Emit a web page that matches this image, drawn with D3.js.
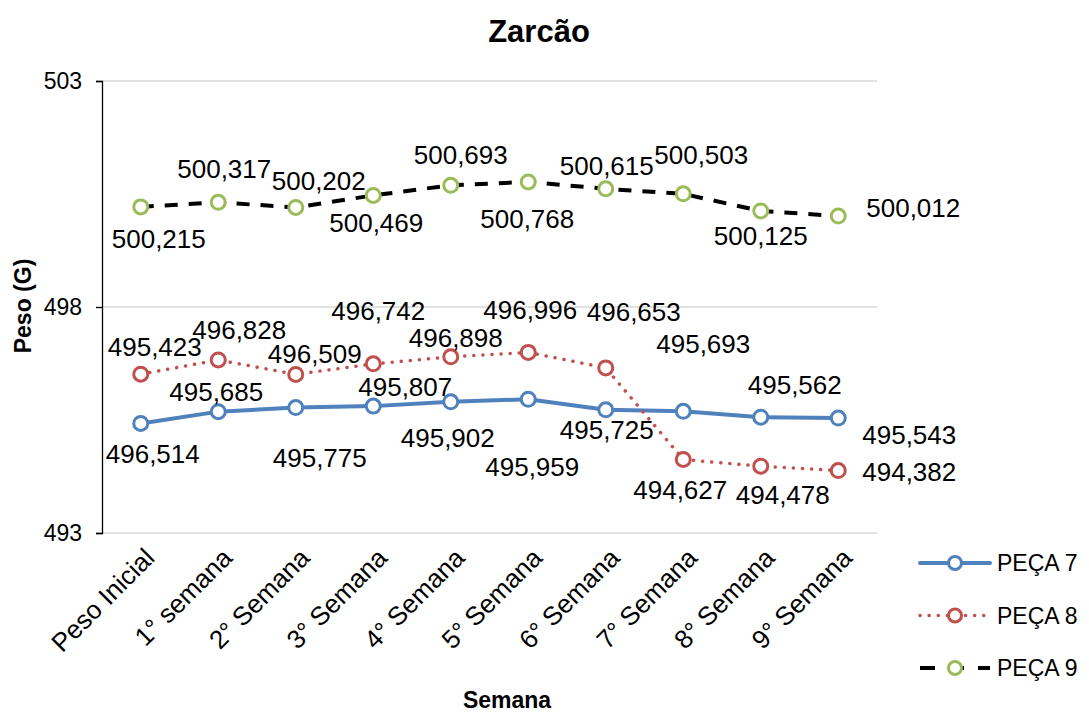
<!DOCTYPE html>
<html>
<head>
<meta charset="utf-8">
<script src="https://cdn.jsdelivr.net/npm/d3@7"></script>
<style>
  body { margin: 0; background: #fff; }
  text { font-family: "Liberation Sans", Arial, sans-serif; }
</style>
</head>
<body>
<div id="chart"></div>
<script>
const categories = ["Peso Inicial", "1° semana", "2° Semana", "3° Semana", "4° Semana",
    "5° Semana", "6° Semana", "7° Semana", "8° Semana", "9° Semana"];

const peca7 = [495.423, 495.685, 495.775, 495.807, 495.902, 495.959, 495.725, 495.693, 495.562, 495.543];
const peca8 = [496.514, 496.828, 496.509, 496.742, 496.898, 496.996, 496.653, 494.627, 494.478, 494.382];
const peca9 = [500.215, 500.317, 500.202, 500.469, 500.693, 500.768, 500.615, 500.503, 500.125, 500.012];

const seriesNames = ["PEÇA 7", "PEÇA 8", "PEÇA 9"];
const yTicks = [493, 498, 503];

// manual label offsets (px) from each point, like the moved labels in the original
const labelShift = [
    [[14, -76], [-2, -20], [24, 50], [32, -19], [-3, 36], [4, 68], [1, 20], [20, -67], [34, -32], [71, 17]],
    [[12, 80], [21, -30], [19, -20], [5, -53], [5, -19], [2, -42], [28, -56], [-3, 31], [22, 29], [71, 1]],
    [[18, 32], [6, -33], [23, -26], [3, 28], [10, -30], [-1, 37], [1, -23], [18, -39], [0, 25], [75, -8]]
];

const styles = [
    { color: "#4F81BD", line: "#4F81BD", width: 4, dash: null, legendDash: null, cap: "round" },
    { color: "#C0504D", line: "#C0504D", width: 3.5, dash: "0.1,9", legendDash: "0.1,9", cap: "round" },
    { color: "#9BBB59", line: "#000000", width: 4, dash: "13,11", legendDash: "15,14", cap: "butt" }
];

const width = 1089;
const height = 713;
const plotLeft = 102, plotRight = 877, plotTop = 81, plotBottom = 533;

const series = [peca7, peca8, peca9];

const svg = d3.select("#chart")
    .append("svg")
    .attr("width", width)
    .attr("height", height);

const x = d3.scaleBand()
    .domain(categories)
    .range([plotLeft, plotRight]);

const y = d3.scaleLinear()
    .domain([493, 503])
    .range([plotBottom, plotTop]);

const cx = c => x(c) + x.bandwidth() / 2;

// gridlines
svg.append("g")
    .selectAll("line")
    .data(yTicks)
    .enter()
    .append("line")
    .attr("x1", plotLeft)
    .attr("x2", plotRight)
    .attr("y1", d => y(d))
    .attr("y2", d => y(d))
    .attr("stroke", "#d9d9d9")
    .attr("stroke-width", 1.3);

// y axis
const yAxis = svg.append("g")
    .attr("transform", `translate(${plotLeft},0)`)
    .call(d3.axisLeft(y).tickValues(yTicks).tickSize(6).tickPadding(14));
yAxis.select(".domain").attr("stroke", "#000").attr("stroke-width", 1.3);
yAxis.selectAll(".tick line").attr("stroke", "#000").attr("stroke-width", 1.3);
yAxis.selectAll(".tick text")
    .style("font-size", "23px")
    .style("font-family", "'Liberation Sans', Arial, sans-serif")
    .attr("fill", "#000");

// x labels
svg.append("g")
    .selectAll("text")
    .data(categories)
    .enter()
    .append("text")
    .attr("transform", d => `translate(${cx(d) + 9},${plotBottom + 20}) rotate(-45)`)
    .attr("text-anchor", "end")
    .attr("dy", "0.35em")
    .style("font-size", "26px")
    .text(d => d);

// lines
series.forEach((vals, s) => {
    const st = styles[s];
    const line = d3.line()
        .x((d, i) => cx(categories[i]))
        .y(d => y(d));
    svg.append("path")
        .datum(vals)
        .attr("d", line)
        .attr("fill", "none")
        .attr("stroke", st.line)
        .attr("stroke-width", st.width)
        .attr("stroke-dasharray", st.dash)
        .attr("stroke-linecap", st.cap)
        .attr("stroke-linejoin", "round");
});

// markers
series.forEach((vals, s) => {
    svg.append("g")
        .selectAll("circle")
        .data(vals)
        .enter()
        .append("circle")
        .attr("cx", (d, i) => cx(categories[i]))
        .attr("cy", d => y(d))
        .attr("r", 7)
        .attr("fill", "#fff")
        .attr("stroke", styles[s].color)
        .attr("stroke-width", 3);
});

// data labels
const fmt = v => v.toFixed(3).replace(".", ",");
series.forEach((vals, s) => {
    svg.append("g")
        .selectAll("text")
        .data(vals)
        .enter()
        .append("text")
        .attr("x", (d, i) => cx(categories[i]) + labelShift[s][i][0])
        .attr("y", (d, i) => y(d) + labelShift[s][i][1])
        .attr("text-anchor", "middle")
        .attr("dominant-baseline", "central")
        .style("font-size", "26px")
        .text(d => fmt(d));
});

// legend
const legend = svg.append("g")
    .selectAll("g")
    .data(seriesNames)
    .enter()
    .append("g")
    .attr("transform", (d, i) => `translate(920,${563 + i * 52.5})`);

legend.append("line")
    .attr("x1", 0)
    .attr("x2", 70)
    .attr("stroke", (d, i) => styles[i].line)
    .attr("stroke-width", (d, i) => styles[i].width)
    .attr("stroke-dasharray", (d, i) => styles[i].legendDash)
    .attr("stroke-linecap", (d, i) => styles[i].cap);

legend.append("circle")
    .attr("cx", 35)
    .attr("r", 6.5)
    .attr("fill", "#fff")
    .attr("stroke", (d, i) => styles[i].color)
    .attr("stroke-width", 3);

legend.append("text")
    .attr("x", 77)
    .attr("dy", "0.36em")
    .style("font-size", "23px")
    .text(d => d);

// titles
svg.append("text")
    .attr("x", 539)
    .attr("y", 42)
    .attr("text-anchor", "middle")
    .style("font-size", "31px")
    .style("font-weight", "bold")
    .text("Zarcão");

svg.append("text")
    .attr("x", 507)
    .attr("y", 708)
    .attr("text-anchor", "middle")
    .style("font-size", "23px")
    .style("font-weight", "bold")
    .text("Semana");

svg.append("text")
    .attr("transform", "translate(23,306) rotate(-90)")
    .attr("text-anchor", "middle")
    .attr("dominant-baseline", "central")
    .style("font-size", "23px")
    .style("font-weight", "bold")
    .text("Peso (G)");
</script>
</body>
</html>
